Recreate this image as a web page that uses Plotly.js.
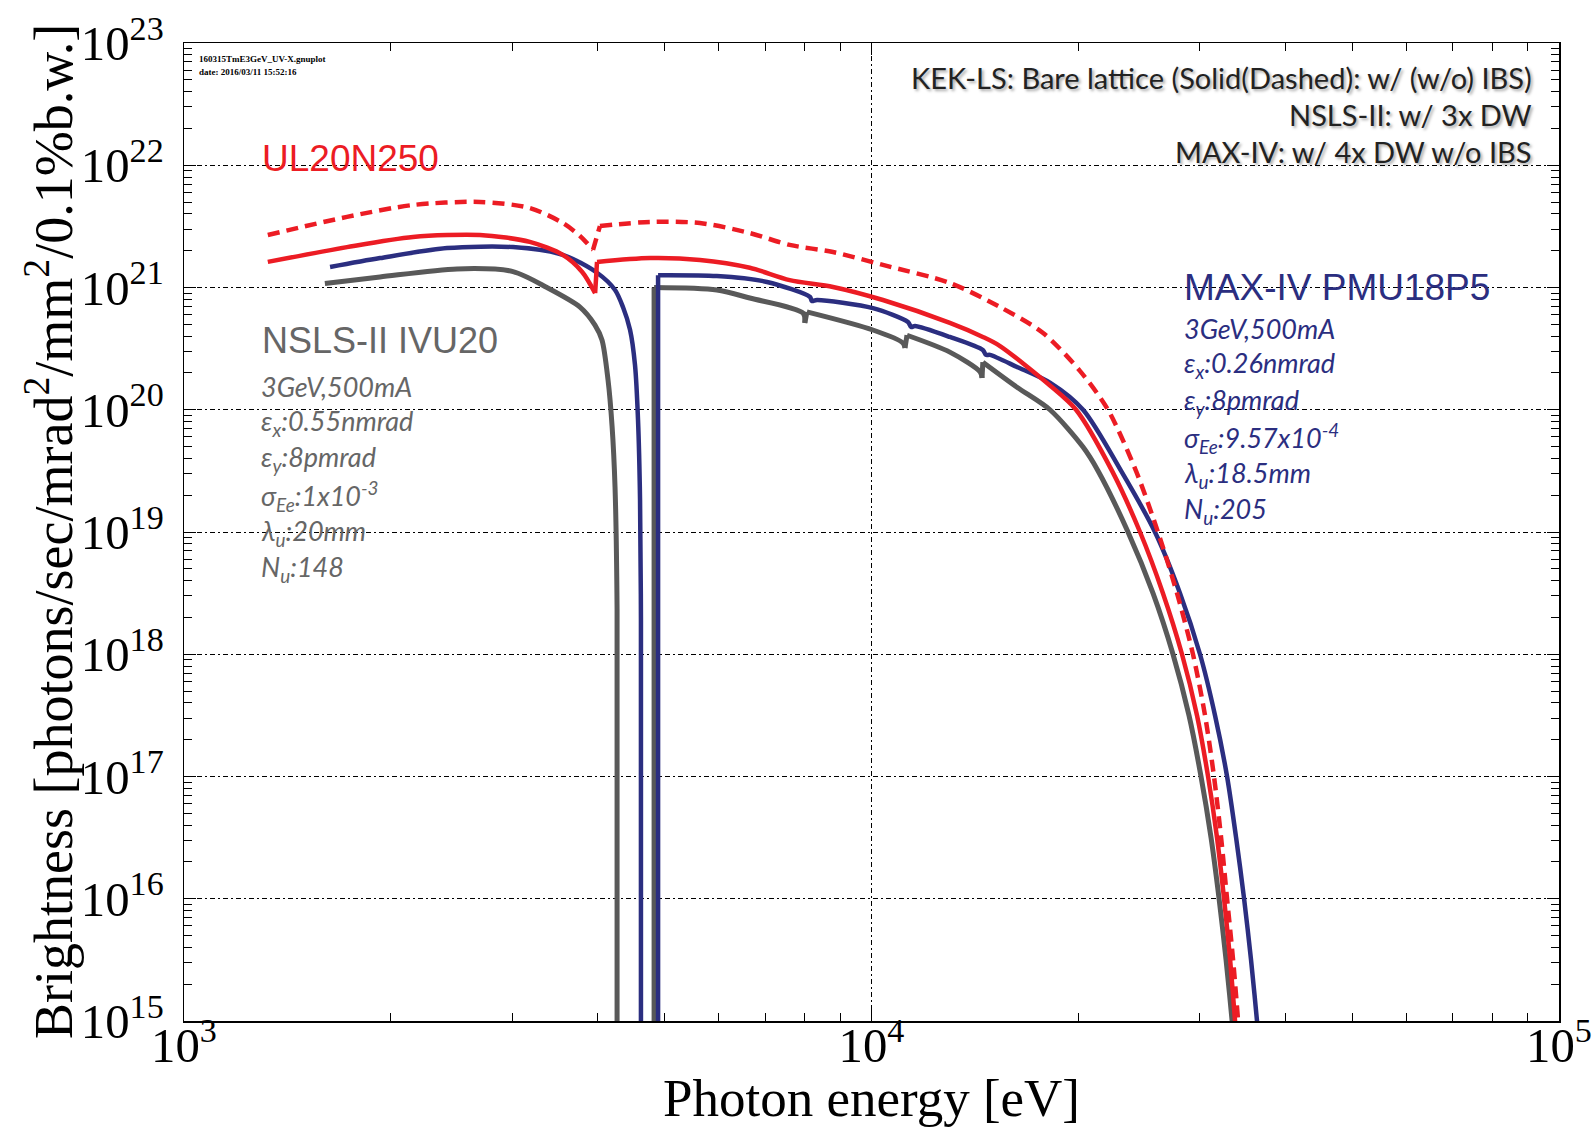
<!DOCTYPE html>
<html>
<head>
<meta charset="utf-8">
<script src="https://cdn.plot.ly/plotly-3.0.1.min.js"></script>
<style>html,body{margin:0;padding:0;background:#fff;}#chart{width:1592px;height:1127px;}</style>
</head>
<body>
<div id="chart"></div>
<script>
// null separates the smooth pieces of one curve (sawtooth edges between undulator harmonics)
// KEK-LS UL20N250, with IBS (solid)
const kekIbsE = [1324,1726,2153,2695,3184,3556,3795,3963,null,3963,3988,null,3988,4764,5630,6653,7603,8790,10390,13000,14520,15380,18180,19840,22380,24580,26540,28290,29750,30870,31810,32570,33240,33790,34830];
const kekIbsB = [1.62e21,2.14e21,2.59e21,2.69e21,2.36e21,1.85e21,1.34e21,9.0e20,null,9.0e20,1.62e21,null,1.62e21,1.74e21,1.68e21,1.45e21,1.15e21,1.01e21,7.9e20,5.13e20,3.94e20,3.32e20,1.58e20,1.0e20,3.16e19,1.0e19,3.16e18,1.0e18,3.16e17,1.0e17,3.16e16,1.0e16,3.16e15,1.0e15,1.0e14];
// KEK-LS UL20N250, without IBS (dashed)
const kekNoIbsE = [1324,1726,2153,2695,3184,3556,3767,3935,null,3935,4027,null,4027,4764,5630,6653,7603,8790,10390,13000,15380,17765,20110,22080,24250,26100,27820,29350,30560,31490,32250,32900,33570,34140,35180];
const kekNoIbsB = [2.69e21,3.78e21,4.73e21,5.01e21,4.47e21,3.37e21,2.64e21,2.03e21,null,2.03e21,3.18e21,null,3.18e21,3.44e21,3.37e21,2.79e21,2.23e21,1.95e21,1.53e21,1.09e21,6.92e20,4.25e20,2.07e20,1.0e20,3.16e19,1.0e19,3.16e18,1.0e18,3.16e17,1.0e17,3.16e16,1.0e16,3.16e15,1.0e15,1.0e14];
// MAX-IV PMU18P5
const maxivE = [1631,1928,2413,3010,3556,3988,4236,4350,4455,4529,4575,4606,4620,4620,null,4893,4893,null,4893,5957,7047,8140,8190,8330,10046,11300,11420,11570,13000,14520,14670,14870,16280,18200,20310,23070,25840,28100,30050,31600,32900,33910,34830,35650,36370,37730];
const maxivB = [1.47e21,1.74e21,2.10e21,2.14e21,1.85e21,1.32e21,9.55e20,6.92e20,4.49e20,2.32e20,8.25e19,1.83e19,1.9e18,1.0e14,null,1.0e14,1.26e21,null,1.26e21,1.24e21,1.11e21,8.36e20,7.75e20,7.9e20,6.79e20,5.22e20,4.75e20,4.84e20,3.94e20,3.08e20,2.81e20,2.81e20,2.24e20,1.66e20,1.0e20,3.16e19,1.0e19,3.16e18,1.0e18,3.16e17,1.0e17,3.16e16,1.0e16,3.16e15,1.0e15,1.0e14];
// NSLS-II IVU20
const nslsE = [1603,1928,2495,3010,3373,3767,3961,4055,4138,4194,4236,4265,4265,null,4828,4828,null,4828,5957,6653,7953,7998,null,7998,8054,null,8054,10046,11112,11187,null,11187,11262,null,11262,13000,14390,14480,null,14480,14520,null,14520,16280,18180,20310,21360,23610,25670,27450,28960,30150,31180,32030,32790,33460,34710];
const nslsB = [1.08e21,1.22e21,1.42e21,1.35e21,1.0e21,6.92e20,4.93e20,3.72e20,1.75e20,7.36e19,2.33e19,2.34e18,1.0e14,null,1.0e14,1.0e21,null,1.0e21,9.55e20,8.2e20,6.17e20,5.13e20,null,5.13e20,6.31e20,null,6.31e20,4.49e20,3.52e20,3.2e20,null,3.2e20,4.07e20,null,4.07e20,2.96e20,2.04e20,1.82e20,null,1.82e20,2.45e20,null,2.45e20,1.53e20,1.0e20,4.95e19,3.16e19,1.0e19,3.16e18,1.0e18,3.16e17,1.0e17,3.16e16,1.0e16,3.16e15,1.0e15,1.0e14];

const RED = '#ec1c24', NAVY = '#2b2e80', GRAY = '#595959', TGRAY = '#666666';
const smooth = {shape: 'spline', smoothing: 0.8};

const traces = [
  {x: nslsE, y: nslsB, mode: 'lines', line: Object.assign({color: GRAY, width: 5}, smooth), connectgaps: false},
  {x: maxivE, y: maxivB, mode: 'lines', line: Object.assign({color: NAVY, width: 4.5}, smooth), connectgaps: false},
  {x: kekIbsE, y: kekIbsB, mode: 'lines', line: Object.assign({color: RED, width: 4.5}, smooth), connectgaps: false},
  {x: kekNoIbsE, y: kekNoIbsB, mode: 'lines', line: Object.assign({color: RED, width: 4.5, dash: '12px,7px'}, smooth), connectgaps: false}
];

const serif = 'Liberation Serif, Times New Roman, serif';
const gridDash = '5px,3px,2px,3px';
const axisCommon = {
  type: 'log', dtick: 1, exponentformat: 'power', showexponent: 'all',
  ticks: 'inside', ticklen: 12, tickwidth: 1, tickcolor: '#000',
  showline: true, linecolor: '#000', linewidth: 1.5, mirror: 'allticks',
  showgrid: true, gridcolor: '#000', gridwidth: 1, griddash: gridDash,
  zeroline: false,
  tickfont: {family: serif, size: 39, color: '#000'},
  minor: {dtick: 'D1', ticks: 'inside', ticklen: 8, tickwidth: 1, tickcolor: '#000', showgrid: false}
};

// plot area: x 184..1559, y 43..1021 in page px
const px = x => (x - 184) / 1375;
const py = y => (1021 - y) / 978;

const nslsLines = ['3GeV,500mA', 'ε<sub>x</sub>:0.55nmrad', 'ε<sub>y</sub>:8pmrad', 'σ<sub>Ee</sub>:1x10<sup>-3</sup>', 'λ<sub>u</sub>:20mm', 'N<sub>u</sub>:148'];
const maxLines = ['3GeV,500mA', 'ε<sub>x</sub>:0.26nmrad', 'ε<sub>y</sub>:8pmrad', 'σ<sub>Ee</sub>:9.57x10<sup>-4</sup>', 'λ<sub>u</sub>:18.5mm', 'N<sub>u</sub>:205'];
const noteLines = ['KEK-LS: Bare lattice (Solid(Dashed): w/ (w/o) IBS)', 'NSLS-II: w/ 3x DW', 'MAX-IV: w/ 4x DW w/o IBS'];

const ann = (text, x, y, anchor, font) => ({text: text, x: px(x), y: py(y), xref: 'paper', yref: 'paper', xanchor: anchor, yanchor: 'middle', showarrow: false, font: font});
const sans = 'Liberation Sans, Arial, sans-serif';
const lato = 'Lato, sans-serif';

const annotations = [
  ann('160315TmE3GeV_UV-X.gnuplot', 197, 59, 'left', {family: serif, size: 9, color: '#000', weight: 'bold'}),
  ann('date: 2016/03/11 15:52:16', 197, 72, 'left', {family: serif, size: 9, color: '#000', weight: 'bold'}),
  ann('UL20N250', 260, 158, 'left', {family: sans, size: 37, color: RED}),
  ann('NSLS-II IVU20', 260, 340, 'left', {family: sans, size: 36, color: TGRAY}),
  ann('MAX-IV PMU18P5', 1182, 287, 'left', {family: sans, size: 37, color: NAVY}),
  {text: 'Brightness [photons/sec/mrad<sup>2</sup>/mm<sup>2</sup>/0.1%b.w.]', x: px(49), y: py(532), xref: 'paper', yref: 'paper',
   xanchor: 'center', yanchor: 'middle', textangle: -90, showarrow: false, font: {family: serif, size: 54, color: '#000'}}
].concat(
  noteLines.map((t, i) => ann(t, 1534, 78 + i * 36.5, 'right', {family: lato, size: 29, color: '#222', shadow: '2px 2px 3px rgba(0,0,0,0.35)'})),
  nslsLines.map((t, i) => ann(t, 259, 386 + i * 36.5, 'left', {family: lato, size: 27, color: TGRAY, style: 'italic'})),
  maxLines.map((t, i) => ann(t, 1182, 328 + i * 36.5, 'left', {family: lato, size: 27, color: NAVY, style: 'italic'}))
);

const layout = {
  width: 1592, height: 1127,
  margin: {l: 184, r: 33, t: 43, b: 106, pad: 0},
  paper_bgcolor: '#fff', plot_bgcolor: '#fff',
  showlegend: false,
  xaxis: Object.assign({}, axisCommon, {
    range: [3, 5],
    ticklabelstandoff: -17,
    title: {text: 'Photon energy [eV]', font: {family: serif, size: 53, color: '#000'}, standoff: 6}
  }),
  yaxis: Object.assign({}, axisCommon, {
    range: [15, 23],
    ticklabelstandoff: 11
  }),
  annotations: annotations
};

Plotly.newPlot('chart', traces, layout, {displayModeBar: false, staticPlot: true});
</script>
</body>
</html>
